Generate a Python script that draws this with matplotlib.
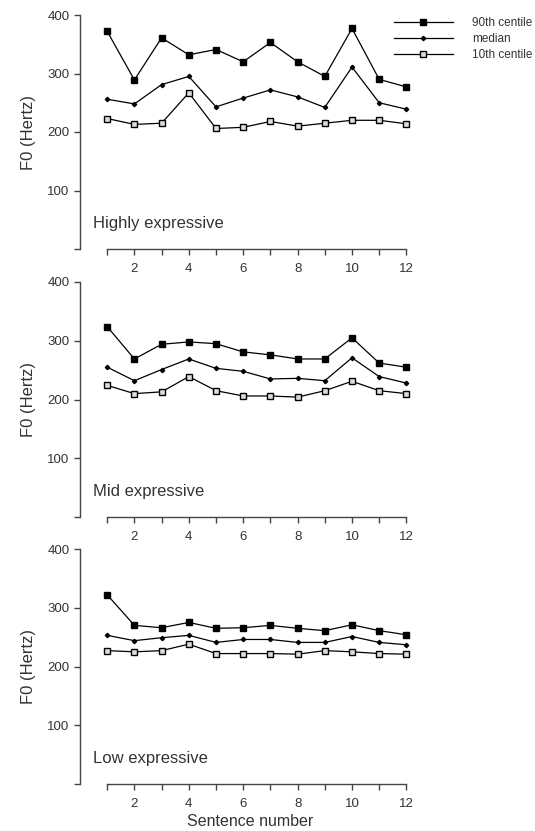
import matplotlib
matplotlib.use("Agg")
import matplotlib.pyplot as plt
import numpy as np

plt.rcParams['font.family'] = ['Liberation Sans', 'DejaVu Sans']

sentences = list(range(1, 13))
panel_titles = ["Highly expressive", "Mid expressive", "Low expressive"]
series_labels = ["90th centile", "median", "10th centile"]

high_p90 = [372, 289, 361, 332, 341, 320, 353, 320, 295, 377, 290, 277]
high_med = [256, 248, 281, 295, 243, 258, 272, 260, 242, 311, 250, 239]
high_p10 = [223, 213, 215, 267, 206, 208, 218, 210, 215, 220, 220, 214]

mid_p90 = [324, 269, 294, 298, 295, 281, 276, 269, 269, 305, 262, 255]
mid_med = [255, 232, 251, 269, 253, 248, 235, 236, 232, 271, 239, 228]
mid_p10 = [224, 210, 213, 239, 215, 206, 206, 204, 215, 231, 215, 210]

low_p90 = [322, 270, 266, 275, 265, 266, 270, 265, 261, 271, 261, 254]
low_med = [253, 244, 249, 253, 241, 246, 246, 241, 241, 251, 241, 237]
low_p10 = [227, 225, 227, 238, 222, 222, 222, 221, 227, 225, 222, 221]

panels = [
    (high_p90, high_med, high_p10),
    (mid_p90, mid_med, mid_p10),
    (low_p90, low_med, low_p10),
]

yticks = [0, 100, 200, 300, 400]
yticklabels = ["", "100", "200", "300", "400"]
xticks = list(range(1, 13))
xticklabels = [str(v) if v % 2 == 0 else "" for v in xticks]

W, H = 535, 831
fig = plt.figure(figsize=(W / 100, H / 100), dpi=100)

txt = '#333333'
spine_c = '#444444'
# (top_px, bottom_px)
boxes = [(15, 249), (282, 517), (549, 784)]
left_px = 80
width_px = 340

handles = None
for (top, bot), data, title in zip(boxes, panels, panel_titles):
    ax = fig.add_axes([left_px / W, 1 - bot / H, width_px / W, (bot - top) / H])
    p90, med, p10 = data
    h1, = ax.plot(sentences, p90, color='black', lw=0.9, marker='s', ms=5,
                  mfc='black', mec='black', label=series_labels[0])
    h2, = ax.plot(sentences, med, color='black', lw=0.9, marker='D', ms=2.2,
                  mfc='black', mec='black', label=series_labels[1])
    h3, = ax.plot(sentences, p10, color='black', lw=0.9, marker='s', ms=4,
                  mfc='#dddddd', mec='black', mew=1.0, label=series_labels[2])
    if handles is None:
        handles = [h1, h2, h3]
    ax.set_xlim(0, 12.5)
    ax.set_ylim(0, 400)
    ax.spines['top'].set_visible(False)
    ax.spines['right'].set_visible(False)
    ax.spines['bottom'].set_bounds(1, 12)
    for s in ('left', 'bottom'):
        ax.spines[s].set_color(spine_c)
        ax.spines[s].set_linewidth(1.0)
    ax.set_yticks(yticks)
    ax.set_yticklabels(yticklabels)
    ax.set_xticks(xticks)
    ax.set_xticklabels(xticklabels)
    ax.tick_params(axis='both', direction='out', length=4, width=1.0,
                   color=spine_c, labelcolor=txt, labelsize=9.5)
    ax.tick_params(axis='x', pad=6)
    ax.set_ylabel("F0 (Hertz)", fontsize=12, color=txt, labelpad=8)
    ax.text(0.48, 43, title, fontsize=12, color=txt, ha='left', va='center')
    last_ax = ax

last_ax.set_xlabel("Sentence number", fontsize=11.5, color=txt, labelpad=3)

fig.legend(handles, series_labels, loc='upper left',
           bbox_to_anchor=(388 / W, 1 - 11 / H), frameon=False,
           fontsize=8.5, handlelength=5.0, labelspacing=0.35,
           handletextpad=1.6, borderpad=0, labelcolor=txt)

fig.savefig("out.png", dpi=100)
